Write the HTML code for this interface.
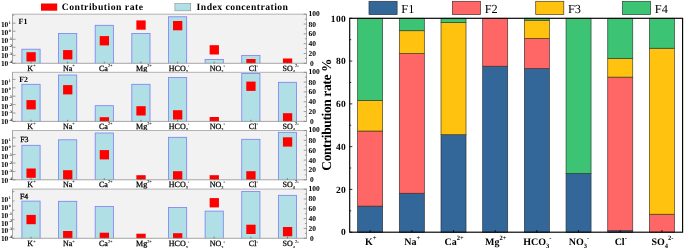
<!DOCTYPE html><html><head><meta charset="utf-8"><title>Contribution rate</title>
<style>html,body{margin:0;padding:0;background:#fff}svg{display:block}text{font-family:"Liberation Serif","DejaVu Serif",serif;fill:#000;text-rendering:geometricPrecision}.b{font-weight:bold}.m{stroke:#000;stroke-width:0.25px}</style></head><body>
<svg width="685" height="248" viewBox="0 0 685 248">
<rect width="685" height="248" fill="#fff"/>
<clipPath id="c0"><rect x="12.5" y="14.2" width="294.0" height="49.099999999999994"/></clipPath>
<rect x="12.5" y="14.2" width="294.0" height="49.099999999999994" fill="#f2f2f2"/>
<g clip-path="url(#c0)">
<rect x="21.90" y="49.20" width="18.2" height="17.10" fill="#b0e0e6" stroke="#7d7df5" stroke-width="0.8"/>
<rect x="58.54" y="33.40" width="18.2" height="32.90" fill="#b0e0e6" stroke="#7d7df5" stroke-width="0.8"/>
<rect x="95.18" y="25.30" width="18.2" height="41.00" fill="#b0e0e6" stroke="#7d7df5" stroke-width="0.8"/>
<rect x="131.82" y="33.40" width="18.2" height="32.90" fill="#b0e0e6" stroke="#7d7df5" stroke-width="0.8"/>
<rect x="168.46" y="16.80" width="18.2" height="49.50" fill="#b0e0e6" stroke="#7d7df5" stroke-width="0.8"/>
<rect x="205.10" y="59.50" width="18.2" height="6.80" fill="#b0e0e6" stroke="#7d7df5" stroke-width="0.8"/>
<rect x="241.74" y="55.50" width="18.2" height="10.80" fill="#b0e0e6" stroke="#7d7df5" stroke-width="0.8"/>
<rect x="26.45" y="52.20" width="9.3" height="9.3" fill="#ff0000"/>
<rect x="63.09" y="50.10" width="9.3" height="9.3" fill="#ff0000"/>
<rect x="99.73" y="36.10" width="9.3" height="9.3" fill="#ff0000"/>
<rect x="136.37" y="20.40" width="9.3" height="9.3" fill="#ff0000"/>
<rect x="173.01" y="21.00" width="9.3" height="9.3" fill="#ff0000"/>
<rect x="209.65" y="45.20" width="9.3" height="9.3" fill="#ff0000"/>
<rect x="246.29" y="59.00" width="9.3" height="9.3" fill="#ff0000"/>
<rect x="282.93" y="58.50" width="9.3" height="9.3" fill="#ff0000"/>
</g>
<line x1="12.2" x2="306.8" y1="14.2" y2="14.2" stroke="#b2b2b2" stroke-width="1"/>
<line x1="12.2" x2="306.8" y1="63.3" y2="63.3" stroke="#909090" stroke-width="0.8"/>
<line x1="12.5" x2="12.5" y1="14.2" y2="63.3" stroke="#7a7a7a" stroke-width="0.65"/>
<line x1="306.5" x2="306.5" y1="14.2" y2="63.3" stroke="#7a7a7a" stroke-width="0.65"/>
<line x1="12.5" x2="15.5" y1="23.20" y2="23.20" stroke="#777" stroke-width="0.7"/>
<text x="0.9" y="27.10" font-size="7.6" class="b" textLength="7.4" lengthAdjust="spacingAndGlyphs">10</text><text x="8.7" y="24.00" font-size="3.9" class="b">1</text>
<line x1="12.5" x2="15.5" y1="31.22" y2="31.22" stroke="#777" stroke-width="0.7"/>
<text x="0.9" y="34.90" font-size="7.6" class="b" textLength="7.4" lengthAdjust="spacingAndGlyphs">10</text><text x="8.7" y="31.80" font-size="3.9" class="b">0</text>
<line x1="12.5" x2="15.5" y1="39.24" y2="39.24" stroke="#777" stroke-width="0.7"/>
<text x="0.9" y="42.70" font-size="7.6" class="b" textLength="7.4" lengthAdjust="spacingAndGlyphs">10</text><text x="8.7" y="39.60" font-size="3.9" class="b">-1</text>
<line x1="12.5" x2="15.5" y1="47.26" y2="47.26" stroke="#777" stroke-width="0.7"/>
<text x="0.9" y="50.50" font-size="7.6" class="b" textLength="7.4" lengthAdjust="spacingAndGlyphs">10</text><text x="8.7" y="47.40" font-size="3.9" class="b">-2</text>
<line x1="12.5" x2="15.5" y1="55.28" y2="55.28" stroke="#777" stroke-width="0.7"/>
<text x="0.9" y="58.30" font-size="7.6" class="b" textLength="7.4" lengthAdjust="spacingAndGlyphs">10</text><text x="8.7" y="55.20" font-size="3.9" class="b">-3</text>
<line x1="12.5" x2="15.5" y1="63.30" y2="63.30" stroke="#777" stroke-width="0.7"/>
<text x="0.9" y="66.10" font-size="7.6" class="b" textLength="7.4" lengthAdjust="spacingAndGlyphs">10</text><text x="8.7" y="63.00" font-size="3.9" class="b">-4</text>
<line x1="12.5" x2="14.3" y1="15.10" y2="15.10" stroke="#777" stroke-width="0.7"/>
<line x1="303.7" x2="306.5" y1="14.20" y2="14.20" stroke="#777" stroke-width="0.7"/>
<text x="308.6" y="16.10" font-size="7.5" class="b">100</text>
<line x1="304.9" x2="306.5" y1="19.11" y2="19.11" stroke="#777" stroke-width="0.7"/>
<line x1="303.7" x2="306.5" y1="24.02" y2="24.02" stroke="#777" stroke-width="0.7"/>
<text x="308.6" y="26.52" font-size="7.5" class="b">80</text>
<line x1="304.9" x2="306.5" y1="28.93" y2="28.93" stroke="#777" stroke-width="0.7"/>
<line x1="303.7" x2="306.5" y1="33.84" y2="33.84" stroke="#777" stroke-width="0.7"/>
<text x="308.6" y="36.34" font-size="7.5" class="b">60</text>
<line x1="304.9" x2="306.5" y1="38.75" y2="38.75" stroke="#777" stroke-width="0.7"/>
<line x1="303.7" x2="306.5" y1="43.66" y2="43.66" stroke="#777" stroke-width="0.7"/>
<text x="308.6" y="46.16" font-size="7.5" class="b">40</text>
<line x1="304.9" x2="306.5" y1="48.57" y2="48.57" stroke="#777" stroke-width="0.7"/>
<line x1="303.7" x2="306.5" y1="53.48" y2="53.48" stroke="#777" stroke-width="0.7"/>
<text x="308.6" y="55.98" font-size="7.5" class="b">20</text>
<line x1="304.9" x2="306.5" y1="58.39" y2="58.39" stroke="#777" stroke-width="0.7"/>
<line x1="303.7" x2="306.5" y1="63.30" y2="63.30" stroke="#777" stroke-width="0.7"/>
<text x="310.1" y="65.80" font-size="7.5" class="b">0</text>
<line x1="31.00" x2="31.00" y1="61.70" y2="63.30" stroke="#555" stroke-width="0.7"/>
<text x="31.50" y="70.60" font-size="8" text-anchor="middle" class="m">K<tspan font-size="4.40" dy="-3.68" stroke-width="0.08">+</tspan></text>
<line x1="67.64" x2="67.64" y1="61.70" y2="63.30" stroke="#555" stroke-width="0.7"/>
<text x="68.94" y="70.60" font-size="8" text-anchor="middle" class="m">Na<tspan font-size="4.40" dy="-3.68" stroke-width="0.08">+</tspan></text>
<line x1="104.28" x2="104.28" y1="61.70" y2="63.30" stroke="#555" stroke-width="0.7"/>
<text x="105.78" y="70.60" font-size="8" text-anchor="middle" class="m">Ca<tspan font-size="4.40" dy="-3.68" stroke-width="0.08">2+</tspan></text>
<line x1="140.92" x2="140.92" y1="61.70" y2="63.30" stroke="#555" stroke-width="0.7"/>
<text x="143.92" y="70.60" font-size="8" text-anchor="middle" class="m">Mg<tspan font-size="4.40" dy="-3.68" stroke-width="0.08">2+</tspan></text>
<line x1="177.56" x2="177.56" y1="61.70" y2="63.30" stroke="#555" stroke-width="0.7"/>
<text x="179.06" y="70.60" font-size="8" text-anchor="middle" class="m">HCO<tspan font-size="4.40" dy="2.16" stroke-width="0.08">3</tspan><tspan font-size="4.40" dy="-5.84" stroke-width="0.08">-</tspan></text>
<line x1="214.20" x2="214.20" y1="61.70" y2="63.30" stroke="#555" stroke-width="0.7"/>
<text x="217.40" y="70.60" font-size="8" text-anchor="middle" class="m">NO<tspan font-size="4.40" dy="2.16" stroke-width="0.08">3</tspan><tspan font-size="4.40" dy="-5.84" stroke-width="0.08">-</tspan></text>
<line x1="250.84" x2="250.84" y1="61.70" y2="63.30" stroke="#555" stroke-width="0.7"/>
<text x="253.34" y="70.60" font-size="8" text-anchor="middle" class="m">Cl<tspan font-size="4.40" dy="-3.68" stroke-width="0.08">-</tspan></text>
<line x1="287.48" x2="287.48" y1="61.70" y2="63.30" stroke="#555" stroke-width="0.7"/>
<text x="290.58" y="70.60" font-size="8" text-anchor="middle" class="m">SO<tspan font-size="4.40" dy="2.16" stroke-width="0.08">4</tspan><tspan font-size="4.40" dy="-5.84" stroke-width="0.08">2-</tspan></text>
<text x="18.6" y="23.90" font-size="7.9" class="b">F1</text>
<clipPath id="c1"><rect x="12.5" y="72.3" width="294.0" height="49.10000000000001"/></clipPath>
<rect x="12.5" y="72.3" width="294.0" height="49.10000000000001" fill="#f2f2f2"/>
<g clip-path="url(#c1)">
<rect x="21.90" y="84.30" width="18.2" height="40.10" fill="#b0e0e6" stroke="#7d7df5" stroke-width="0.8"/>
<rect x="58.54" y="75.00" width="18.2" height="49.40" fill="#b0e0e6" stroke="#7d7df5" stroke-width="0.8"/>
<rect x="95.18" y="105.70" width="18.2" height="18.70" fill="#b0e0e6" stroke="#7d7df5" stroke-width="0.8"/>
<rect x="131.82" y="84.30" width="18.2" height="40.10" fill="#b0e0e6" stroke="#7d7df5" stroke-width="0.8"/>
<rect x="168.46" y="77.50" width="18.2" height="46.90" fill="#b0e0e6" stroke="#7d7df5" stroke-width="0.8"/>
<rect x="241.74" y="73.50" width="18.2" height="50.90" fill="#b0e0e6" stroke="#7d7df5" stroke-width="0.8"/>
<rect x="278.38" y="82.30" width="18.2" height="42.10" fill="#b0e0e6" stroke="#7d7df5" stroke-width="0.8"/>
<rect x="26.45" y="100.10" width="9.3" height="9.3" fill="#ff0000"/>
<rect x="63.09" y="85.10" width="9.3" height="9.3" fill="#ff0000"/>
<rect x="99.73" y="117.20" width="9.3" height="9.3" fill="#ff0000"/>
<rect x="136.37" y="106.20" width="9.3" height="9.3" fill="#ff0000"/>
<rect x="173.01" y="110.20" width="9.3" height="9.3" fill="#ff0000"/>
<rect x="209.65" y="117.00" width="9.3" height="9.3" fill="#ff0000"/>
<rect x="246.29" y="81.60" width="9.3" height="9.3" fill="#ff0000"/>
<rect x="282.93" y="113.20" width="9.3" height="9.3" fill="#ff0000"/>
</g>
<line x1="12.2" x2="306.8" y1="72.3" y2="72.3" stroke="#b2b2b2" stroke-width="1"/>
<line x1="12.2" x2="306.8" y1="121.4" y2="121.4" stroke="#909090" stroke-width="0.8"/>
<line x1="12.5" x2="12.5" y1="72.3" y2="121.4" stroke="#7a7a7a" stroke-width="0.65"/>
<line x1="306.5" x2="306.5" y1="72.3" y2="121.4" stroke="#7a7a7a" stroke-width="0.65"/>
<line x1="12.5" x2="15.5" y1="79.40" y2="79.40" stroke="#777" stroke-width="0.7"/>
<text x="0.9" y="85.20" font-size="7.6" class="b" textLength="7.4" lengthAdjust="spacingAndGlyphs">10</text><text x="8.7" y="82.10" font-size="3.9" class="b">1</text>
<line x1="12.5" x2="15.5" y1="87.80" y2="87.80" stroke="#777" stroke-width="0.7"/>
<text x="0.9" y="93.00" font-size="7.6" class="b" textLength="7.4" lengthAdjust="spacingAndGlyphs">10</text><text x="8.7" y="89.90" font-size="3.9" class="b">0</text>
<line x1="12.5" x2="15.5" y1="96.20" y2="96.20" stroke="#777" stroke-width="0.7"/>
<text x="0.9" y="100.80" font-size="7.6" class="b" textLength="7.4" lengthAdjust="spacingAndGlyphs">10</text><text x="8.7" y="97.70" font-size="3.9" class="b">-1</text>
<line x1="12.5" x2="15.5" y1="104.60" y2="104.60" stroke="#777" stroke-width="0.7"/>
<text x="0.9" y="108.60" font-size="7.6" class="b" textLength="7.4" lengthAdjust="spacingAndGlyphs">10</text><text x="8.7" y="105.50" font-size="3.9" class="b">-2</text>
<line x1="12.5" x2="15.5" y1="113.00" y2="113.00" stroke="#777" stroke-width="0.7"/>
<text x="0.9" y="116.40" font-size="7.6" class="b" textLength="7.4" lengthAdjust="spacingAndGlyphs">10</text><text x="8.7" y="113.30" font-size="3.9" class="b">-3</text>
<line x1="12.5" x2="15.5" y1="121.40" y2="121.40" stroke="#777" stroke-width="0.7"/>
<text x="0.9" y="124.20" font-size="7.6" class="b" textLength="7.4" lengthAdjust="spacingAndGlyphs">10</text><text x="8.7" y="121.10" font-size="3.9" class="b">-4</text>
<line x1="303.7" x2="306.5" y1="72.30" y2="72.30" stroke="#777" stroke-width="0.7"/>
<text x="308.6" y="74.20" font-size="7.5" class="b">100</text>
<line x1="304.9" x2="306.5" y1="77.21" y2="77.21" stroke="#777" stroke-width="0.7"/>
<line x1="303.7" x2="306.5" y1="82.12" y2="82.12" stroke="#777" stroke-width="0.7"/>
<text x="308.6" y="84.62" font-size="7.5" class="b">80</text>
<line x1="304.9" x2="306.5" y1="87.03" y2="87.03" stroke="#777" stroke-width="0.7"/>
<line x1="303.7" x2="306.5" y1="91.94" y2="91.94" stroke="#777" stroke-width="0.7"/>
<text x="308.6" y="94.44" font-size="7.5" class="b">60</text>
<line x1="304.9" x2="306.5" y1="96.85" y2="96.85" stroke="#777" stroke-width="0.7"/>
<line x1="303.7" x2="306.5" y1="101.76" y2="101.76" stroke="#777" stroke-width="0.7"/>
<text x="308.6" y="104.26" font-size="7.5" class="b">40</text>
<line x1="304.9" x2="306.5" y1="106.67" y2="106.67" stroke="#777" stroke-width="0.7"/>
<line x1="303.7" x2="306.5" y1="111.58" y2="111.58" stroke="#777" stroke-width="0.7"/>
<text x="308.6" y="114.08" font-size="7.5" class="b">20</text>
<line x1="304.9" x2="306.5" y1="116.49" y2="116.49" stroke="#777" stroke-width="0.7"/>
<line x1="303.7" x2="306.5" y1="121.40" y2="121.40" stroke="#777" stroke-width="0.7"/>
<text x="310.1" y="123.90" font-size="7.5" class="b">0</text>
<line x1="31.00" x2="31.00" y1="119.80" y2="121.40" stroke="#555" stroke-width="0.7"/>
<text x="31.50" y="128.70" font-size="8" text-anchor="middle" class="m">K<tspan font-size="4.40" dy="-3.68" stroke-width="0.08">+</tspan></text>
<line x1="67.64" x2="67.64" y1="119.80" y2="121.40" stroke="#555" stroke-width="0.7"/>
<text x="68.94" y="128.70" font-size="8" text-anchor="middle" class="m">Na<tspan font-size="4.40" dy="-3.68" stroke-width="0.08">+</tspan></text>
<line x1="104.28" x2="104.28" y1="119.80" y2="121.40" stroke="#555" stroke-width="0.7"/>
<text x="105.78" y="128.70" font-size="8" text-anchor="middle" class="m">Ca<tspan font-size="4.40" dy="-3.68" stroke-width="0.08">2+</tspan></text>
<line x1="140.92" x2="140.92" y1="119.80" y2="121.40" stroke="#555" stroke-width="0.7"/>
<text x="143.92" y="128.70" font-size="8" text-anchor="middle" class="m">Mg<tspan font-size="4.40" dy="-3.68" stroke-width="0.08">2+</tspan></text>
<line x1="177.56" x2="177.56" y1="119.80" y2="121.40" stroke="#555" stroke-width="0.7"/>
<text x="179.06" y="128.70" font-size="8" text-anchor="middle" class="m">HCO<tspan font-size="4.40" dy="2.16" stroke-width="0.08">3</tspan><tspan font-size="4.40" dy="-5.84" stroke-width="0.08">-</tspan></text>
<line x1="214.20" x2="214.20" y1="119.80" y2="121.40" stroke="#555" stroke-width="0.7"/>
<text x="217.40" y="128.70" font-size="8" text-anchor="middle" class="m">NO<tspan font-size="4.40" dy="2.16" stroke-width="0.08">3</tspan><tspan font-size="4.40" dy="-5.84" stroke-width="0.08">-</tspan></text>
<line x1="250.84" x2="250.84" y1="119.80" y2="121.40" stroke="#555" stroke-width="0.7"/>
<text x="253.34" y="128.70" font-size="8" text-anchor="middle" class="m">Cl<tspan font-size="4.40" dy="-3.68" stroke-width="0.08">-</tspan></text>
<line x1="287.48" x2="287.48" y1="119.80" y2="121.40" stroke="#555" stroke-width="0.7"/>
<text x="290.58" y="128.70" font-size="8" text-anchor="middle" class="m">SO<tspan font-size="4.40" dy="2.16" stroke-width="0.08">4</tspan><tspan font-size="4.40" dy="-5.84" stroke-width="0.08">2-</tspan></text>
<text x="19.3" y="82.00" font-size="7.9" class="b">F2</text>
<clipPath id="c2"><rect x="12.5" y="130.5" width="294.0" height="49.30000000000001"/></clipPath>
<rect x="12.5" y="130.5" width="294.0" height="49.30000000000001" fill="#f2f2f2"/>
<g clip-path="url(#c2)">
<rect x="21.90" y="145.30" width="18.2" height="37.50" fill="#b0e0e6" stroke="#7d7df5" stroke-width="0.8"/>
<rect x="58.54" y="139.80" width="18.2" height="43.00" fill="#b0e0e6" stroke="#7d7df5" stroke-width="0.8"/>
<rect x="95.18" y="133.00" width="18.2" height="49.80" fill="#b0e0e6" stroke="#7d7df5" stroke-width="0.8"/>
<rect x="168.46" y="137.30" width="18.2" height="45.50" fill="#b0e0e6" stroke="#7d7df5" stroke-width="0.8"/>
<rect x="241.74" y="139.30" width="18.2" height="43.50" fill="#b0e0e6" stroke="#7d7df5" stroke-width="0.8"/>
<rect x="278.38" y="132.30" width="18.2" height="50.50" fill="#b0e0e6" stroke="#7d7df5" stroke-width="0.8"/>
<rect x="26.45" y="168.50" width="9.3" height="9.3" fill="#ff0000"/>
<rect x="63.09" y="170.20" width="9.3" height="9.3" fill="#ff0000"/>
<rect x="99.73" y="150.10" width="9.3" height="9.3" fill="#ff0000"/>
<rect x="136.37" y="175.20" width="9.3" height="9.3" fill="#ff0000"/>
<rect x="173.01" y="171.20" width="9.3" height="9.3" fill="#ff0000"/>
<rect x="209.65" y="175.20" width="9.3" height="9.3" fill="#ff0000"/>
<rect x="246.29" y="171.20" width="9.3" height="9.3" fill="#ff0000"/>
<rect x="282.93" y="137.30" width="9.3" height="9.3" fill="#ff0000"/>
</g>
<line x1="12.2" x2="306.8" y1="130.5" y2="130.5" stroke="#b2b2b2" stroke-width="1"/>
<line x1="12.2" x2="306.8" y1="179.8" y2="179.8" stroke="#909090" stroke-width="0.8"/>
<line x1="12.5" x2="12.5" y1="130.5" y2="179.8" stroke="#7a7a7a" stroke-width="0.65"/>
<line x1="306.5" x2="306.5" y1="130.5" y2="179.8" stroke="#7a7a7a" stroke-width="0.65"/>
<line x1="12.5" x2="15.5" y1="137.80" y2="137.80" stroke="#777" stroke-width="0.7"/>
<text x="0.9" y="143.60" font-size="7.6" class="b" textLength="7.4" lengthAdjust="spacingAndGlyphs">10</text><text x="8.7" y="140.50" font-size="3.9" class="b">1</text>
<line x1="12.5" x2="15.5" y1="146.20" y2="146.20" stroke="#777" stroke-width="0.7"/>
<text x="0.9" y="151.40" font-size="7.6" class="b" textLength="7.4" lengthAdjust="spacingAndGlyphs">10</text><text x="8.7" y="148.30" font-size="3.9" class="b">0</text>
<line x1="12.5" x2="15.5" y1="154.60" y2="154.60" stroke="#777" stroke-width="0.7"/>
<text x="0.9" y="159.20" font-size="7.6" class="b" textLength="7.4" lengthAdjust="spacingAndGlyphs">10</text><text x="8.7" y="156.10" font-size="3.9" class="b">-1</text>
<line x1="12.5" x2="15.5" y1="163.00" y2="163.00" stroke="#777" stroke-width="0.7"/>
<text x="0.9" y="167.00" font-size="7.6" class="b" textLength="7.4" lengthAdjust="spacingAndGlyphs">10</text><text x="8.7" y="163.90" font-size="3.9" class="b">-2</text>
<line x1="12.5" x2="15.5" y1="171.40" y2="171.40" stroke="#777" stroke-width="0.7"/>
<text x="0.9" y="174.80" font-size="7.6" class="b" textLength="7.4" lengthAdjust="spacingAndGlyphs">10</text><text x="8.7" y="171.70" font-size="3.9" class="b">-3</text>
<line x1="12.5" x2="15.5" y1="179.80" y2="179.80" stroke="#777" stroke-width="0.7"/>
<text x="0.9" y="182.60" font-size="7.6" class="b" textLength="7.4" lengthAdjust="spacingAndGlyphs">10</text><text x="8.7" y="179.50" font-size="3.9" class="b">-4</text>
<line x1="303.7" x2="306.5" y1="130.50" y2="130.50" stroke="#777" stroke-width="0.7"/>
<text x="308.6" y="132.40" font-size="7.5" class="b">100</text>
<line x1="304.9" x2="306.5" y1="135.43" y2="135.43" stroke="#777" stroke-width="0.7"/>
<line x1="303.7" x2="306.5" y1="140.36" y2="140.36" stroke="#777" stroke-width="0.7"/>
<text x="308.6" y="142.86" font-size="7.5" class="b">80</text>
<line x1="304.9" x2="306.5" y1="145.29" y2="145.29" stroke="#777" stroke-width="0.7"/>
<line x1="303.7" x2="306.5" y1="150.22" y2="150.22" stroke="#777" stroke-width="0.7"/>
<text x="308.6" y="152.72" font-size="7.5" class="b">60</text>
<line x1="304.9" x2="306.5" y1="155.15" y2="155.15" stroke="#777" stroke-width="0.7"/>
<line x1="303.7" x2="306.5" y1="160.08" y2="160.08" stroke="#777" stroke-width="0.7"/>
<text x="308.6" y="162.58" font-size="7.5" class="b">40</text>
<line x1="304.9" x2="306.5" y1="165.01" y2="165.01" stroke="#777" stroke-width="0.7"/>
<line x1="303.7" x2="306.5" y1="169.94" y2="169.94" stroke="#777" stroke-width="0.7"/>
<text x="308.6" y="172.44" font-size="7.5" class="b">20</text>
<line x1="304.9" x2="306.5" y1="174.87" y2="174.87" stroke="#777" stroke-width="0.7"/>
<line x1="303.7" x2="306.5" y1="179.80" y2="179.80" stroke="#777" stroke-width="0.7"/>
<text x="310.1" y="182.30" font-size="7.5" class="b">0</text>
<line x1="31.00" x2="31.00" y1="178.20" y2="179.80" stroke="#555" stroke-width="0.7"/>
<text x="31.50" y="187.10" font-size="8" text-anchor="middle" class="m">K<tspan font-size="4.40" dy="-3.68" stroke-width="0.08">+</tspan></text>
<line x1="67.64" x2="67.64" y1="178.20" y2="179.80" stroke="#555" stroke-width="0.7"/>
<text x="68.94" y="187.10" font-size="8" text-anchor="middle" class="m">Na<tspan font-size="4.40" dy="-3.68" stroke-width="0.08">+</tspan></text>
<line x1="104.28" x2="104.28" y1="178.20" y2="179.80" stroke="#555" stroke-width="0.7"/>
<text x="105.78" y="187.10" font-size="8" text-anchor="middle" class="m">Ca<tspan font-size="4.40" dy="-3.68" stroke-width="0.08">2+</tspan></text>
<line x1="140.92" x2="140.92" y1="178.20" y2="179.80" stroke="#555" stroke-width="0.7"/>
<text x="143.92" y="187.10" font-size="8" text-anchor="middle" class="m">Mg<tspan font-size="4.40" dy="-3.68" stroke-width="0.08">2+</tspan></text>
<line x1="177.56" x2="177.56" y1="178.20" y2="179.80" stroke="#555" stroke-width="0.7"/>
<text x="179.06" y="187.10" font-size="8" text-anchor="middle" class="m">HCO<tspan font-size="4.40" dy="2.16" stroke-width="0.08">3</tspan><tspan font-size="4.40" dy="-5.84" stroke-width="0.08">-</tspan></text>
<line x1="214.20" x2="214.20" y1="178.20" y2="179.80" stroke="#555" stroke-width="0.7"/>
<text x="217.40" y="187.10" font-size="8" text-anchor="middle" class="m">NO<tspan font-size="4.40" dy="2.16" stroke-width="0.08">3</tspan><tspan font-size="4.40" dy="-5.84" stroke-width="0.08">-</tspan></text>
<line x1="250.84" x2="250.84" y1="178.20" y2="179.80" stroke="#555" stroke-width="0.7"/>
<text x="253.34" y="187.10" font-size="8" text-anchor="middle" class="m">Cl<tspan font-size="4.40" dy="-3.68" stroke-width="0.08">-</tspan></text>
<line x1="287.48" x2="287.48" y1="178.20" y2="179.80" stroke="#555" stroke-width="0.7"/>
<text x="290.58" y="187.10" font-size="8" text-anchor="middle" class="m">SO<tspan font-size="4.40" dy="2.16" stroke-width="0.08">4</tspan><tspan font-size="4.40" dy="-5.84" stroke-width="0.08">2-</tspan></text>
<text x="20.2" y="141.50" font-size="7.9" class="m">F3</text>
<clipPath id="c3"><rect x="12.5" y="189.1" width="294.0" height="49.20000000000002"/></clipPath>
<rect x="12.5" y="189.1" width="294.0" height="49.20000000000002" fill="#f2f2f2"/>
<g clip-path="url(#c3)">
<rect x="21.90" y="201.10" width="18.2" height="40.20" fill="#b0e0e6" stroke="#7d7df5" stroke-width="0.8"/>
<rect x="58.54" y="201.30" width="18.2" height="40.00" fill="#b0e0e6" stroke="#7d7df5" stroke-width="0.8"/>
<rect x="95.18" y="206.40" width="18.2" height="34.90" fill="#b0e0e6" stroke="#7d7df5" stroke-width="0.8"/>
<rect x="168.46" y="207.40" width="18.2" height="33.90" fill="#b0e0e6" stroke="#7d7df5" stroke-width="0.8"/>
<rect x="205.10" y="211.10" width="18.2" height="30.20" fill="#b0e0e6" stroke="#7d7df5" stroke-width="0.8"/>
<rect x="241.74" y="191.50" width="18.2" height="49.80" fill="#b0e0e6" stroke="#7d7df5" stroke-width="0.8"/>
<rect x="278.38" y="195.30" width="18.2" height="46.00" fill="#b0e0e6" stroke="#7d7df5" stroke-width="0.8"/>
<rect x="26.45" y="214.90" width="9.3" height="9.3" fill="#ff0000"/>
<rect x="63.09" y="231.00" width="9.3" height="9.3" fill="#ff0000"/>
<rect x="99.73" y="232.70" width="9.3" height="9.3" fill="#ff0000"/>
<rect x="136.37" y="233.70" width="9.3" height="9.3" fill="#ff0000"/>
<rect x="173.01" y="233.20" width="9.3" height="9.3" fill="#ff0000"/>
<rect x="209.65" y="198.10" width="9.3" height="9.3" fill="#ff0000"/>
<rect x="246.29" y="224.70" width="9.3" height="9.3" fill="#ff0000"/>
<rect x="282.93" y="227.00" width="9.3" height="9.3" fill="#ff0000"/>
</g>
<line x1="12.2" x2="306.8" y1="189.1" y2="189.1" stroke="#b2b2b2" stroke-width="1"/>
<line x1="12.2" x2="306.8" y1="238.3" y2="238.3" stroke="#909090" stroke-width="0.8"/>
<line x1="12.5" x2="12.5" y1="189.1" y2="238.3" stroke="#7a7a7a" stroke-width="0.65"/>
<line x1="306.5" x2="306.5" y1="189.1" y2="238.3" stroke="#7a7a7a" stroke-width="0.65"/>
<line x1="12.5" x2="14.5" y1="191.65" y2="191.65" stroke="#777" stroke-width="0.7"/>
<text x="0.9" y="202.10" font-size="7.6" class="b" textLength="7.4" lengthAdjust="spacingAndGlyphs">10</text><text x="8.7" y="199.00" font-size="3.9" class="b">1</text>
<line x1="12.5" x2="14.5" y1="200.98" y2="200.98" stroke="#777" stroke-width="0.7"/>
<text x="0.9" y="209.90" font-size="7.6" class="b" textLength="7.4" lengthAdjust="spacingAndGlyphs">10</text><text x="8.7" y="206.80" font-size="3.9" class="b">0</text>
<line x1="12.5" x2="14.5" y1="210.31" y2="210.31" stroke="#777" stroke-width="0.7"/>
<text x="0.9" y="217.70" font-size="7.6" class="b" textLength="7.4" lengthAdjust="spacingAndGlyphs">10</text><text x="8.7" y="214.60" font-size="3.9" class="b">-1</text>
<line x1="12.5" x2="14.5" y1="219.64" y2="219.64" stroke="#777" stroke-width="0.7"/>
<text x="0.9" y="225.50" font-size="7.6" class="b" textLength="7.4" lengthAdjust="spacingAndGlyphs">10</text><text x="8.7" y="222.40" font-size="3.9" class="b">-2</text>
<line x1="12.5" x2="14.5" y1="228.97" y2="228.97" stroke="#777" stroke-width="0.7"/>
<text x="0.9" y="233.30" font-size="7.6" class="b" textLength="7.4" lengthAdjust="spacingAndGlyphs">10</text><text x="8.7" y="230.20" font-size="3.9" class="b">-3</text>
<line x1="12.5" x2="14.5" y1="238.30" y2="238.30" stroke="#777" stroke-width="0.7"/>
<text x="0.9" y="241.10" font-size="7.6" class="b" textLength="7.4" lengthAdjust="spacingAndGlyphs">10</text><text x="8.7" y="238.00" font-size="3.9" class="b">-4</text>
<line x1="303.7" x2="306.5" y1="189.10" y2="189.10" stroke="#777" stroke-width="0.7"/>
<text x="308.6" y="191.00" font-size="7.5" class="b">100</text>
<line x1="304.9" x2="306.5" y1="194.02" y2="194.02" stroke="#777" stroke-width="0.7"/>
<line x1="303.7" x2="306.5" y1="198.94" y2="198.94" stroke="#777" stroke-width="0.7"/>
<text x="308.6" y="201.44" font-size="7.5" class="b">80</text>
<line x1="304.9" x2="306.5" y1="203.86" y2="203.86" stroke="#777" stroke-width="0.7"/>
<line x1="303.7" x2="306.5" y1="208.78" y2="208.78" stroke="#777" stroke-width="0.7"/>
<text x="308.6" y="211.28" font-size="7.5" class="b">60</text>
<line x1="304.9" x2="306.5" y1="213.70" y2="213.70" stroke="#777" stroke-width="0.7"/>
<line x1="303.7" x2="306.5" y1="218.62" y2="218.62" stroke="#777" stroke-width="0.7"/>
<text x="308.6" y="221.12" font-size="7.5" class="b">40</text>
<line x1="304.9" x2="306.5" y1="223.54" y2="223.54" stroke="#777" stroke-width="0.7"/>
<line x1="303.7" x2="306.5" y1="228.46" y2="228.46" stroke="#777" stroke-width="0.7"/>
<text x="308.6" y="230.96" font-size="7.5" class="b">20</text>
<line x1="304.9" x2="306.5" y1="233.38" y2="233.38" stroke="#777" stroke-width="0.7"/>
<line x1="303.7" x2="306.5" y1="238.30" y2="238.30" stroke="#777" stroke-width="0.7"/>
<text x="310.1" y="240.80" font-size="7.5" class="b">0</text>
<line x1="31.00" x2="31.00" y1="236.70" y2="238.30" stroke="#555" stroke-width="0.7"/>
<text x="31.50" y="246.40" font-size="8" text-anchor="middle" class="m">K<tspan font-size="4.40" dy="-3.68" stroke-width="0.08">+</tspan></text>
<line x1="67.64" x2="67.64" y1="236.70" y2="238.30" stroke="#555" stroke-width="0.7"/>
<text x="68.94" y="246.40" font-size="8" text-anchor="middle" class="m">Na<tspan font-size="4.40" dy="-3.68" stroke-width="0.08">+</tspan></text>
<line x1="104.28" x2="104.28" y1="236.70" y2="238.30" stroke="#555" stroke-width="0.7"/>
<text x="105.78" y="246.40" font-size="8" text-anchor="middle" class="m">Ca<tspan font-size="4.40" dy="-3.68" stroke-width="0.08">2+</tspan></text>
<line x1="140.92" x2="140.92" y1="236.70" y2="238.30" stroke="#555" stroke-width="0.7"/>
<text x="143.92" y="246.40" font-size="8" text-anchor="middle" class="m">Mg<tspan font-size="4.40" dy="-3.68" stroke-width="0.08">2+</tspan></text>
<line x1="177.56" x2="177.56" y1="236.70" y2="238.30" stroke="#555" stroke-width="0.7"/>
<text x="179.06" y="246.40" font-size="8" text-anchor="middle" class="m">HCO<tspan font-size="4.40" dy="2.16" stroke-width="0.08">3</tspan><tspan font-size="4.40" dy="-5.84" stroke-width="0.08">-</tspan></text>
<line x1="214.20" x2="214.20" y1="236.70" y2="238.30" stroke="#555" stroke-width="0.7"/>
<text x="217.40" y="246.40" font-size="8" text-anchor="middle" class="m">NO<tspan font-size="4.40" dy="2.16" stroke-width="0.08">3</tspan><tspan font-size="4.40" dy="-5.84" stroke-width="0.08">-</tspan></text>
<line x1="250.84" x2="250.84" y1="236.70" y2="238.30" stroke="#555" stroke-width="0.7"/>
<text x="253.34" y="246.40" font-size="8" text-anchor="middle" class="m">Cl<tspan font-size="4.40" dy="-3.68" stroke-width="0.08">-</tspan></text>
<line x1="287.48" x2="287.48" y1="236.70" y2="238.30" stroke="#555" stroke-width="0.7"/>
<text x="290.58" y="246.40" font-size="8" text-anchor="middle" class="m">SO<tspan font-size="4.40" dy="2.16" stroke-width="0.08">4</tspan><tspan font-size="4.40" dy="-5.84" stroke-width="0.08">2-</tspan></text>
<text x="19.9" y="198.90" font-size="7.9" class="m">F4</text>
<rect x="41" y="3.5" width="16.2" height="7.2" fill="#ff0000"/>
<text x="61.7" y="9.8" font-size="9.7" class="b" textLength="81.3" lengthAdjust="spacing">Contribution rate</text>
<rect x="174.9" y="3.6" width="15.8" height="7.2" fill="#b0e0e6" stroke="#8c8c8c" stroke-width="0.6"/>
<text x="196.6" y="9.8" font-size="9.7" class="b" textLength="91.4" lengthAdjust="spacing">Index concentration</text>
<rect x="357.65" y="206.10" width="25.0" height="26.10" fill="#336699" stroke="#2a3540" stroke-width="0.7"/>
<rect x="357.65" y="131.03" width="25.0" height="75.08" fill="#ff6666" stroke="#4a3030" stroke-width="0.7"/>
<rect x="357.65" y="100.44" width="25.0" height="30.59" fill="#ffc20e" stroke="#4a4020" stroke-width="0.7"/>
<rect x="357.65" y="18.30" width="25.0" height="82.14" fill="#3cc373" stroke="#2a4535" stroke-width="0.7"/>
<rect x="399.33" y="193.27" width="25.0" height="38.93" fill="#336699" stroke="#2a3540" stroke-width="0.7"/>
<rect x="399.33" y="53.38" width="25.0" height="139.89" fill="#ff6666" stroke="#4a3030" stroke-width="0.7"/>
<rect x="399.33" y="30.71" width="25.0" height="22.67" fill="#ffc20e" stroke="#4a4020" stroke-width="0.7"/>
<rect x="399.33" y="18.30" width="25.0" height="12.41" fill="#3cc373" stroke="#2a4535" stroke-width="0.7"/>
<rect x="441.01" y="134.66" width="25.0" height="97.54" fill="#336699" stroke="#2a3540" stroke-width="0.7"/>
<rect x="441.01" y="22.58" width="25.0" height="112.08" fill="#ffc20e" stroke="#4a4020" stroke-width="0.7"/>
<rect x="441.01" y="18.30" width="25.0" height="4.28" fill="#3cc373" stroke="#2a4535" stroke-width="0.7"/>
<rect x="482.69" y="66.21" width="25.0" height="165.99" fill="#336699" stroke="#2a3540" stroke-width="0.7"/>
<rect x="482.69" y="18.30" width="25.0" height="47.91" fill="#ff6666" stroke="#4a3030" stroke-width="0.7"/>
<rect x="524.37" y="68.57" width="25.0" height="163.63" fill="#336699" stroke="#2a3540" stroke-width="0.7"/>
<rect x="524.37" y="38.41" width="25.0" height="30.16" fill="#ff6666" stroke="#4a3030" stroke-width="0.7"/>
<rect x="524.37" y="20.23" width="25.0" height="18.18" fill="#ffc20e" stroke="#4a4020" stroke-width="0.7"/>
<rect x="524.37" y="18.30" width="25.0" height="1.93" fill="#3cc373" stroke="#2a4535" stroke-width="0.7"/>
<rect x="566.05" y="173.38" width="25.0" height="58.82" fill="#336699" stroke="#2a3540" stroke-width="0.7"/>
<rect x="566.05" y="18.30" width="25.0" height="155.08" fill="#3cc373" stroke="#2a4535" stroke-width="0.7"/>
<rect x="607.73" y="230.70" width="25.0" height="1.50" fill="#336699" stroke="#2a3540" stroke-width="0.7"/>
<rect x="607.73" y="77.12" width="25.0" height="153.58" fill="#ff6666" stroke="#4a3030" stroke-width="0.7"/>
<rect x="607.73" y="58.51" width="25.0" height="18.61" fill="#ffc20e" stroke="#4a4020" stroke-width="0.7"/>
<rect x="607.73" y="18.30" width="25.0" height="40.21" fill="#3cc373" stroke="#2a4535" stroke-width="0.7"/>
<rect x="649.41" y="214.23" width="25.0" height="17.97" fill="#ff6666" stroke="#4a3030" stroke-width="0.7"/>
<rect x="649.41" y="48.25" width="25.0" height="165.99" fill="#ffc20e" stroke="#4a4020" stroke-width="0.7"/>
<rect x="649.41" y="18.30" width="25.0" height="29.95" fill="#3cc373" stroke="#2a4535" stroke-width="0.7"/>
<rect x="349.7" y="18.3" width="332.90000000000003" height="213.89999999999998" fill="none" stroke="#000" stroke-width="1.15"/>
<line x1="349.7" x2="352.3" y1="232.20" y2="232.20" stroke="#000" stroke-width="0.8"/>
<text x="340.95" y="235.40" font-size="9.5" class="b" textLength="4.75" lengthAdjust="spacing">0</text>
<line x1="349.7" x2="351.2" y1="210.81" y2="210.81" stroke="#000" stroke-width="0.8"/>
<line x1="349.7" x2="352.3" y1="189.42" y2="189.42" stroke="#000" stroke-width="0.8"/>
<text x="335.90" y="192.62" font-size="9.5" class="b" textLength="9.80" lengthAdjust="spacing">20</text>
<line x1="349.7" x2="351.2" y1="168.03" y2="168.03" stroke="#000" stroke-width="0.8"/>
<line x1="349.7" x2="352.3" y1="146.64" y2="146.64" stroke="#000" stroke-width="0.8"/>
<text x="335.90" y="149.84" font-size="9.5" class="b" textLength="9.80" lengthAdjust="spacing">40</text>
<line x1="349.7" x2="351.2" y1="125.25" y2="125.25" stroke="#000" stroke-width="0.8"/>
<line x1="349.7" x2="352.3" y1="103.86" y2="103.86" stroke="#000" stroke-width="0.8"/>
<text x="335.90" y="107.06" font-size="9.5" class="b" textLength="9.80" lengthAdjust="spacing">60</text>
<line x1="349.7" x2="351.2" y1="82.47" y2="82.47" stroke="#000" stroke-width="0.8"/>
<line x1="349.7" x2="352.3" y1="61.08" y2="61.08" stroke="#000" stroke-width="0.8"/>
<text x="335.90" y="64.28" font-size="9.5" class="b" textLength="9.80" lengthAdjust="spacing">80</text>
<line x1="349.7" x2="351.2" y1="39.69" y2="39.69" stroke="#000" stroke-width="0.8"/>
<line x1="349.7" x2="352.3" y1="18.30" y2="18.30" stroke="#000" stroke-width="0.8"/>
<text x="330.85" y="21.50" font-size="9.5" class="b" textLength="14.85" lengthAdjust="spacing">100</text>
<line x1="370.15" x2="370.15" y1="230.00" y2="232.20" stroke="#000" stroke-width="0.8"/>
<text x="370.65" y="245.00" font-size="10" text-anchor="middle" class="b">K<tspan font-size="6.50" dy="-4.60">+</tspan></text>
<line x1="411.83" x2="411.83" y1="230.00" y2="232.20" stroke="#000" stroke-width="0.8"/>
<text x="412.33" y="245.00" font-size="10" text-anchor="middle" class="b">Na<tspan font-size="6.50" dy="-4.60">+</tspan></text>
<line x1="453.51" x2="453.51" y1="230.00" y2="232.20" stroke="#000" stroke-width="0.8"/>
<text x="454.01" y="245.00" font-size="10" text-anchor="middle" class="b">Ca<tspan font-size="6.50" dy="-4.60">2+</tspan></text>
<line x1="495.19" x2="495.19" y1="230.00" y2="232.20" stroke="#000" stroke-width="0.8"/>
<text x="495.69" y="245.00" font-size="10" text-anchor="middle" class="b">Mg<tspan font-size="6.50" dy="-4.60">2+</tspan></text>
<line x1="536.87" x2="536.87" y1="230.00" y2="232.20" stroke="#000" stroke-width="0.8"/>
<text x="537.37" y="245.00" font-size="10" text-anchor="middle" class="b">HCO<tspan font-size="6.50" dy="2.70">3</tspan><tspan font-size="6.50" dy="-7.30">-</tspan></text>
<line x1="578.55" x2="578.55" y1="230.00" y2="232.20" stroke="#000" stroke-width="0.8"/>
<text x="579.05" y="245.00" font-size="10" text-anchor="middle" class="b">NO<tspan font-size="6.50" dy="2.70">3</tspan><tspan font-size="6.50" dy="-7.30">-</tspan></text>
<line x1="620.23" x2="620.23" y1="230.00" y2="232.20" stroke="#000" stroke-width="0.8"/>
<text x="620.73" y="245.00" font-size="10" text-anchor="middle" class="b">Cl<tspan font-size="6.50" dy="-4.60">-</tspan></text>
<line x1="661.91" x2="661.91" y1="230.00" y2="232.20" stroke="#000" stroke-width="0.8"/>
<text x="662.41" y="245.00" font-size="10" text-anchor="middle" class="b">SO<tspan font-size="6.50" dy="2.70">4</tspan><tspan font-size="6.50" dy="-7.30">2-</tspan></text>
<text transform="translate(331,170.7) rotate(-90)" font-size="13.5" class="b" textLength="112.2" lengthAdjust="spacing">Contribution rate %</text>
<rect x="369" y="1.3" width="28.1" height="13.3" fill="#336699" stroke="#2a3540" stroke-width="0.7"/>
<text x="401.3" y="12.5" font-size="12.3">F1</text>
<rect x="452.4" y="1.3" width="28.1" height="13.3" fill="#ff6666" stroke="#4a3030" stroke-width="0.7"/>
<text x="484.7" y="12.5" font-size="12.3">F2</text>
<rect x="535.7" y="1.3" width="28.1" height="13.3" fill="#ffc20e" stroke="#4a4020" stroke-width="0.7"/>
<text x="568.0" y="12.5" font-size="12.3">F3</text>
<rect x="622.5" y="1.3" width="28.1" height="13.3" fill="#3cc373" stroke="#2a4535" stroke-width="0.7"/>
<text x="654.8" y="12.5" font-size="12.3">F4</text>
</svg></body></html>
